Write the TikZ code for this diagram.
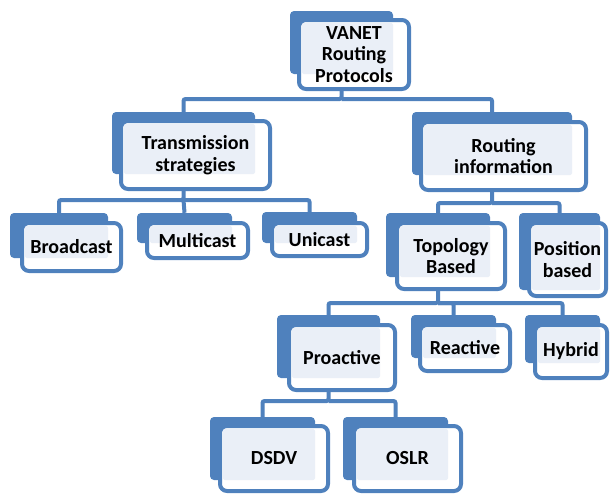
\documentclass[tikz,border=0pt]{standalone}
\usepackage{fontspec}
\setmainfont{Carlito}
\usetikzlibrary{fit,calc,backgrounds}
\definecolor{vblue}{HTML}{4F81BD}
\definecolor{vlight}{HTML}{EAEFF7}
\tikzset{
  backbox/.style={fill=vblue, draw=none, rounded corners=4pt, inner sep=0pt},
  frontbox/.style={fill=white, draw=vblue, line width=4pt, rounded corners=7pt, inner sep=0pt, outer sep=0pt},
  lightfill/.style={fill=vlight, rounded corners=2pt},
  txt/.style={align=center, font=\fontsize{20}{21.5}\selectfont\bfseries, text=black, inner sep=0pt},
  conn/.style={draw=vblue, line width=4pt, rounded corners=2pt}
}
\newcommand\vtbox[6]{%
  \node[backbox, fit={(#2)(#3)}] (#1b) {};
  \node[frontbox, fit={(#4)(#5)}] (#1) {};
  \fill[lightfill] ($(#4)+(3,3)$) rectangle (#3);
  \node[txt] (#1t) at (#1.center) {#6};
}
\begin{document}
\begin{tikzpicture}[x=1pt,y=-1pt]
\useasboundingbox (0,0) rectangle (610,496);
\coordinate (busA) at (0,99);
\coordinate (busB) at (0,200);
\coordinate (busC) at (0,203);
\coordinate (busD) at (0,303);
\coordinate (busE) at (0,401);
% boxes
\vtbox{root}{290,11}{393,74}{299,20}{409,89}{VANET\\Routing\\Protocols}
\vtbox{ts}{112,112}{255,174}{121,121}{270,189}{Transmission\\strategies}
\vtbox{ri}{412,112}{572,175}{421,122}{586,190}{Routing\\information}
\vtbox{bc}{10,213}{108,258}{22,223}{121,271}{Broadcast}
\vtbox{mc}{137,213}{232,243}{147,223}{248,258}{Multicast}
\vtbox{uc}{262,212}{357,243}{272,223}{367,256}{Unicast}
\vtbox{tp}{386,213}{490,277}{397,223}{505,289}{Topology\\Based}
\vtbox{pb}{519,213}{600,290}{529,223}{606,296}{Position\\based}
\vtbox{pr}{277,315}{380,378}{289,325}{395,390}{Proactive}
\vtbox{re}{411,315}{496,358}{420,325}{510,371}{Reactive}
\vtbox{hy}{525,315}{600,363}{535,325}{607,378}{Hybrid}
\vtbox{ds}{210,417}{315,480}{220,426}{328,491}{DSDV}
\vtbox{os}{343,417}{448,480}{354,426}{461,491}{OSLR}
% connectors
\begin{scope}[on background layer]
\draw[conn] (rootb.south |- root.south) -- (rootb.south |- busA) -| (tsb.north);
\draw[conn] (rootb.south |- busA) -| (rib.north);
\draw[conn] (tsb.south |- ts.south) -- (tsb.south |- busB) -| (bcb.north);
\draw[conn] (tsb.south |- busB) -- (mcb.north);
\draw[conn] (tsb.south |- busB) -| (ucb.north);
\draw[conn] (rib.south |- ri.south) -- (rib.south |- busC) -| (tpb.north);
\draw[conn] (rib.south |- busC) -| (pbb.north);
\draw[conn] (tpb.south |- tp.south) -- (tpb.south |- busD) -| (prb.north);
\draw[conn] (tpb.south |- busD) -| (reb.north);
\draw[conn] (tpb.south |- busD) -| (hyb.north);
\draw[conn] (prb.south |- pr.south) -- (prb.south |- busE) -| (dsb.north);
\draw[conn] (prb.south |- busE) -| (osb.north);
\end{scope}
\end{tikzpicture}
\end{document}
